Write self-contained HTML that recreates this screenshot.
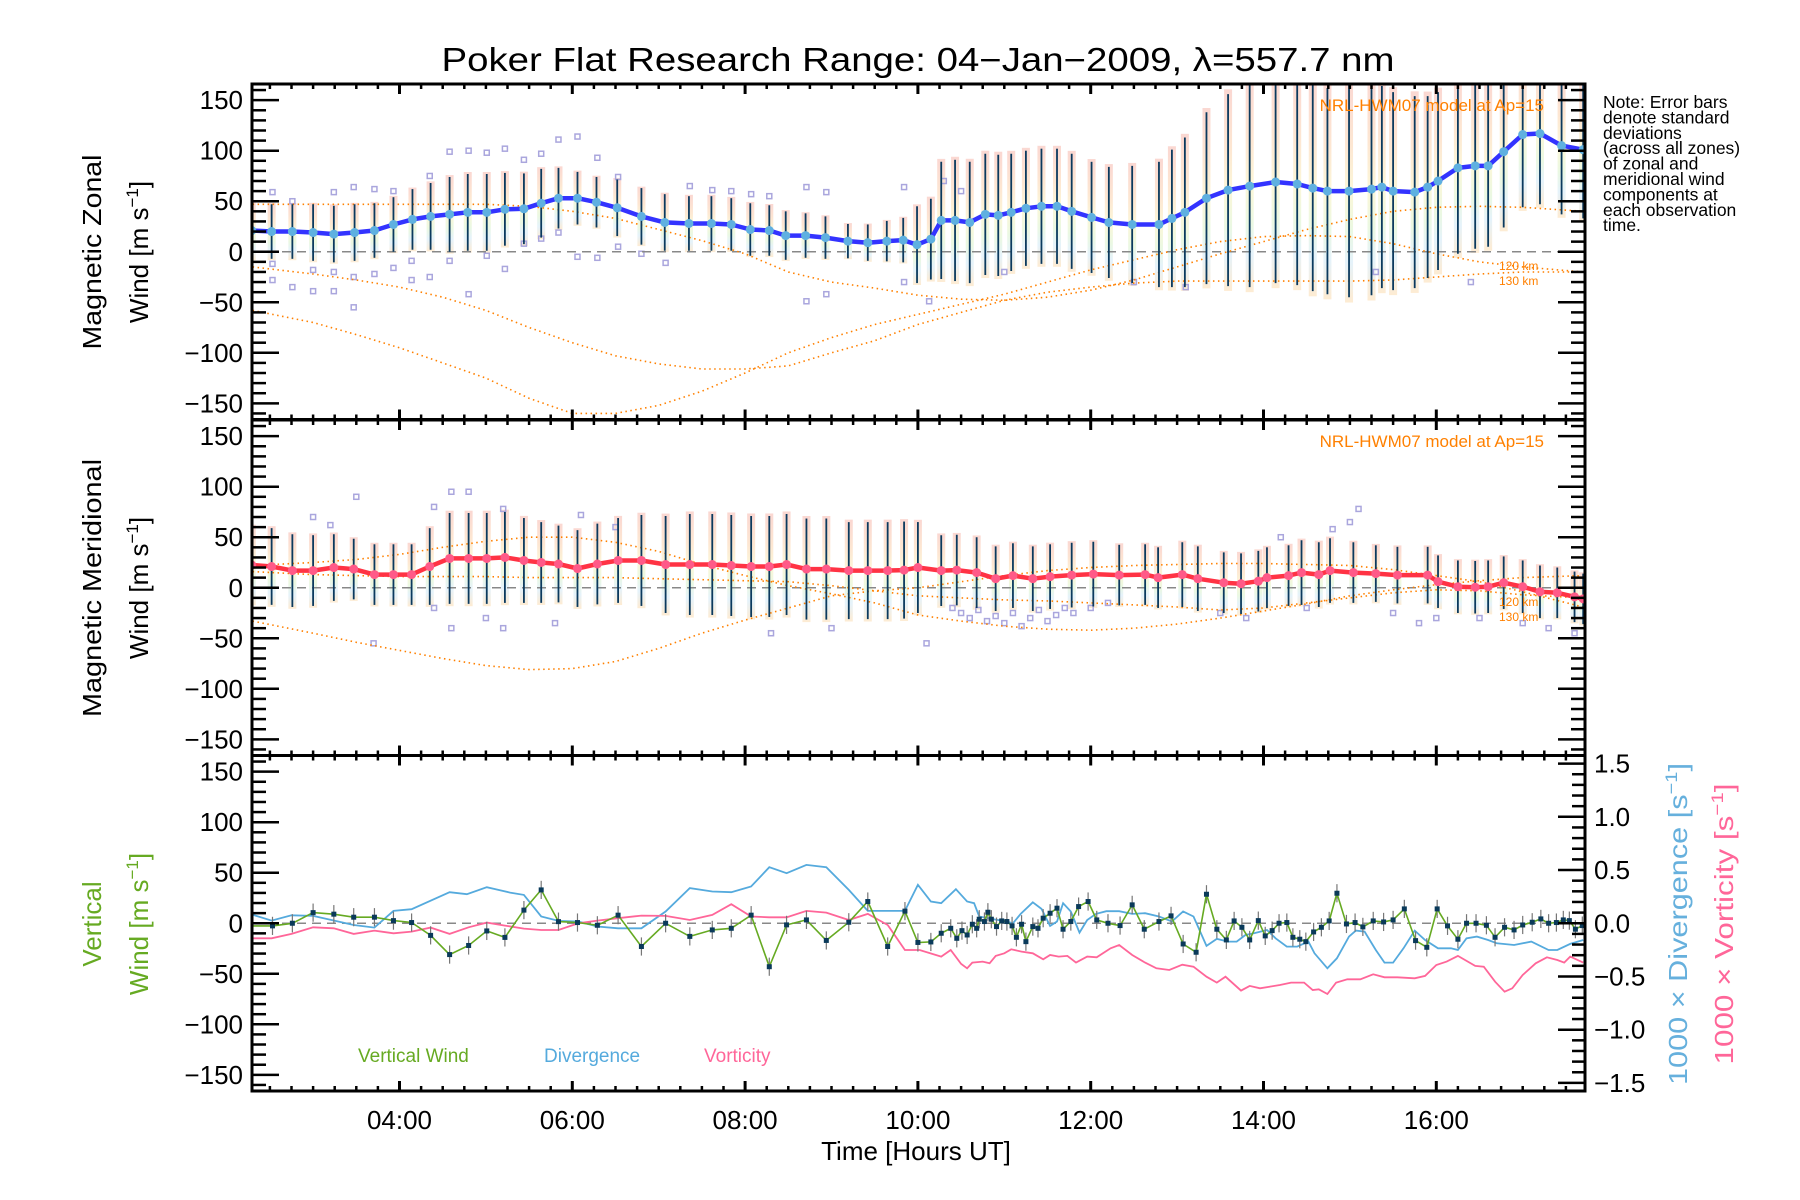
<!DOCTYPE html>
<html><head><meta charset="utf-8"><title>Poker Flat Research Range winds</title>
<style>
html,body{margin:0;padding:0;background:#fff;}
svg{display:block;font-family:"Liberation Sans",sans-serif;}
</style></head>
<body>
<svg id="chart" xmlns="http://www.w3.org/2000/svg" width="1800" height="1200" viewBox="0 0 1800 1200">
<rect x="0" y="0" width="1800" height="1200" fill="#fff"/>
<text x="918" y="71" text-anchor="middle" font-size="33" textLength="953" lengthAdjust="spacingAndGlyphs">Poker Flat Research Range: 04−Jan−2009, λ=557.7 nm</text>
<g id="panels"></g>
<g font-size="17.5">
<text x="1603" y="108">Note: Error bars</text>
<text x="1603" y="123.4">denote standard</text>
<text x="1603" y="138.8">deviations</text>
<text x="1603" y="154.2">(across all zones)</text>
<text x="1603" y="169.6">of zonal and</text>
<text x="1603" y="185">meridional wind</text>
<text x="1603" y="200.4">components at</text>
<text x="1603" y="215.8">each observation</text>
<text x="1603" y="231.2">time.</text>
</g>
<g font-size="26">
<text transform="translate(101,252) rotate(-90)" text-anchor="middle" textLength="195" lengthAdjust="spacingAndGlyphs">Magnetic Zonal</text>
<text transform="translate(148,252) rotate(-90)" text-anchor="middle">Wind [m s<tspan font-size="17" dy="-10">−1</tspan><tspan dy="10">]</tspan></text>
</g>
<g font-size="26">
<text transform="translate(101,588) rotate(-90)" text-anchor="middle" textLength="258" lengthAdjust="spacingAndGlyphs">Magnetic Meridional</text>
<text transform="translate(148,588) rotate(-90)" text-anchor="middle">Wind [m s<tspan font-size="17" dy="-10">−1</tspan><tspan dy="10">]</tspan></text>
</g>
<g font-size="26" fill="#66aa22">
<text transform="translate(101,924) rotate(-90)" text-anchor="middle">Vertical</text>
<text transform="translate(148,924) rotate(-90)" text-anchor="middle">Wind [m s<tspan font-size="17" dy="-10">−1</tspan><tspan dy="10">]</tspan></text>
</g>
<text transform="translate(1687,924) rotate(-90)" text-anchor="middle" font-size="26" fill="#66b0dd" textLength="322" lengthAdjust="spacingAndGlyphs">1000 × Divergence [s<tspan font-size="17" dy="-10">−1</tspan><tspan dy="10">]</tspan></text>
<text transform="translate(1733,924) rotate(-90)" text-anchor="middle" font-size="26" fill="#ff6699" textLength="281" lengthAdjust="spacingAndGlyphs">1000 × Vorticity [s<tspan font-size="17" dy="-10">−1</tspan><tspan dy="10">]</tspan></text>
<text x="916" y="1160" text-anchor="middle" font-size="26">Time [Hours UT]</text>
<g font-size="19">
<text x="358" y="1062" fill="#66aa22">Vertical Wind</text>
<text x="544" y="1062" fill="#55aadd">Divergence</text>
<text x="704" y="1062" fill="#ff6699">Vorticity</text>
</g>
</svg>
<script>
// ---- data ----
const zonalTimes=[2.29,2.52,2.76,3.00,3.24,3.48,3.71,3.93,4.15,4.36,4.58,4.79,5.01,5.22,5.44,5.64,5.84,6.06,6.28,6.52,6.80,7.07,7.35,7.61,7.84,8.06,8.28,8.47,8.70,8.93,9.19,9.42,9.64,9.83,9.99,10.15,10.27,10.43,10.60,10.78,10.93,11.08,11.25,11.43,11.61,11.78,12.01,12.21,12.48,12.79,12.94,13.09,13.34,13.59,13.84,14.14,14.39,14.57,14.74,14.99,15.25,15.37,15.50,15.75,15.90,16.02,16.25,16.45,16.60,16.78,17.00,17.20,17.45,17.70];
const zonalValues=[21,20,20,19,17.5,19,21,27,32,35,37,39,39,42,42.5,48,53,53,49,43.5,35,29,28,28,27,22,21,16,16,14,10.5,9,10.5,11.5,7,12.5,31,31,29,37,36,39,43,45,45,40,34,29,27,27,33,39,53,61,65,69,67,63,60,60,62,64,60,59,64,70,83,85,85,99,116,117,105,101];
const zonalSigma=[28,27,27,28,28,28,27,27,30,33,37,38,38,36,35,34,30,26,25,28,28,28,27,27,26,26,25,24,22,21,17,18,20,22,38,40,58,60,60,60,60,58,57,57,57,57,55,55,58,62,68,74,85,95,100,100,100,102,102,105,105,100,98,95,90,88,85,82,80,75,72,70,68,68];
const merTimes=[2.29,2.52,2.76,3.0,3.24,3.47,3.71,3.93,4.14,4.35,4.58,4.80,5.01,5.22,5.44,5.64,5.84,6.06,6.29,6.53,6.80,7.08,7.36,7.62,7.84,8.07,8.28,8.48,8.71,8.94,9.20,9.42,9.65,9.84,10.0,10.27,10.45,10.68,10.90,11.10,11.33,11.53,11.78,12.03,12.33,12.63,12.78,13.06,13.24,13.54,13.74,13.94,14.04,14.29,14.44,14.64,14.77,15.04,15.30,15.55,15.90,16.02,16.25,16.45,16.60,16.78,17.0,17.2,17.4,17.6,17.70];
const merValues=[22.5,21,17,17,20,18.5,13,13,13,21,29,29,29,30,27,25,23.5,19,23.5,27,27,23,23,23,22,21,21,23,18.5,18.5,17,17,17,17.5,20,17,17.5,15,9,12,9,11,12.5,13.5,12.5,13,10,13,9,5,4,6.5,10,12,15,13,17,15,14,12.5,12.5,6,1,0.5,1,5,1,-4,-5,-9,-11];
const merSigma=[38,38,36,35,33,30,30,30,30,38,45,45,45,45,42,40,38,38,40,42,45,48,50,50,50,50,50,50,50,50,48,48,48,48,45,35,35,35,32,32,32,32,32,32,30,30,30,32,32,30,30,30,30,30,32,32,32,30,28,28,28,26,26,26,26,26,26,26,25,25,25];
const zonalScatterT=[2.53,2.53,2.53,2.76,2.76,3.0,3.0,3.24,3.24,3.24,3.47,3.47,3.47,3.71,3.71,3.93,3.93,4.14,4.14,4.35,4.35,4.58,4.58,4.80,4.80,5.01,5.01,5.22,5.22,5.44,5.44,5.64,5.64,5.84,5.84,6.06,6.06,6.29,6.29,6.53,6.53,6.80,7.08,7.36,7.62,7.84,8.07,8.28,8.71,8.71,8.94,8.94,9.84,9.84,10.13,10.3,10.5,11.0,12.5,13.1,15.3,16.4];
const zonalScatterV=[59,-12,-28,50,-35,-18,-39,59,-20,-39,64,-25,-55,62,-22,60,-16,-9,-28,75,-25,99,-9,100,-42,98,-4,102,-17,91,8,97,13,111,19,114,-5,93,-6,74,5,-2,-11,65,61,60,57,55,64,-49,59,-42,64,-30,-49,70,60,-20,-30,-35,-20,-30];
const merScatterT=[10.4,10.5,10.6,10.7,10.8,10.9,11.0,11.1,11.2,11.3,11.4,11.5,11.6,11.7,11.8,12.0,12.2,13.5,13.8,14.5,15.5,15.8,16.0,16.5,17.0,17.3,17.6,15.0,14.8,15.1,14.2,3.0,3.2,4.6,4.8,5.2,6.1,6.5,3.5,4.4,5.0,5.2,4.6,3.7,4.4,5.8,8.3,9.0,10.1];
const merScatterV=[-20,-25,-30,-22,-33,-28,-35,-25,-38,-30,-22,-33,-27,-20,-25,-20,-15,-25,-30,-20,-25,-35,-30,-30,-35,-40,-45,65,58,78,50,70,62,95,95,78,72,60,90,80,-30,-40,-40,-55,-20,-35,-45,-40,-55];
const modelTimes1=[2.3,3,3.5,4,4.5,5,5.5,6,6.5,7,7.5,8,8.5,9,9.5,10,10.5,11,11.5,12,12.5,13,13.5,14,14.5,15,15.5,16,16.5,17,17.7];
const zonalModelA=[47,47,47,47,47,47,45,40,33,22,11,-2,-20,-30,-36,-43,-47,-48,-45,-38,-28,-15,-2,10,22,32,40,44,45,44,40];
const zonalModelB=[-15,-22,-28,-35,-45,-58,-75,-90,-103,-111,-116,-116,-113,-100,-88,-72,-60,-48,-40,-35,-31,-29,-29,-29,-29,-29,-28,-25,-22,-20,-20];
const zonalModelC=[-58,-70,-82,-95,-110,-125,-145,-160,-160,-152,-138,-120,-100,-85,-72,-62,-52,-42,-30,-18,-8,2,10,15,16,15,8,-2,-10,-15,-20];
const merModelA=[22,25,28,33,40,46,50,50,45,36,23,12,2,-6,-15,-27,-33,-38,-41,-42,-40,-36,-30,-23,-16,-8,-2,3,7,10,12];
const merModelB=[16,13,12,11,11,11,10,10,10,9,8,7,6,2,-3,-8,-10,-12,-13,-15,-17,-19,-22,-20,-15,-10,-5,-2,-3,-7,-10];
const merModelC=[-33,-45,-54,-62,-70,-77,-81,-80,-73,-60,-45,-32,-20,-8,-3,0,6,12,17,20,22,23,24,24,23,22,18,12,6,-4,-19];
const vertTimes=[2.27,2.53,2.76,3.0,3.24,3.47,3.71,3.93,4.14,4.36,4.58,4.80,5.01,5.22,5.44,5.64,5.84,6.06,6.29,6.53,6.80,7.08,7.36,7.62,7.84,8.07,8.28,8.48,8.71,8.94,9.20,9.42,9.65,9.85,10.0,10.15,10.27,10.38,10.45,10.51,10.57,10.63,10.68,10.71,10.77,10.81,10.85,10.91,10.97,11.03,11.09,11.14,11.20,11.25,11.33,11.39,11.45,11.53,11.61,11.68,11.77,11.86,11.97,12.07,12.20,12.34,12.48,12.62,12.79,12.93,13.07,13.22,13.34,13.46,13.57,13.66,13.75,13.84,13.94,14.02,14.10,14.18,14.27,14.34,14.42,14.49,14.58,14.67,14.76,14.85,14.96,15.06,15.15,15.27,15.39,15.50,15.63,15.76,15.89,16.01,16.13,16.25,16.35,16.46,16.58,16.68,16.79,16.90,17.00,17.11,17.21,17.30,17.39,17.47,17.54,17.61,17.69];
const vertValues=[-2.6,-2.6,0,10.5,9,6,6,2.6,0.7,-12,-31,-22,-7.6,-14,13,33,1.6,0.7,-2,8,-23,0,-13,-6.6,-5,8,-43,-1.6,3.3,-17,1,21.5,-23,12,-19,-18.5,-9.9,-5,-14.9,-7.3,-11.6,-1,-5,4,1.7,10.9,4,-3.3,2.3,1.7,-2.6,-13.9,-1,-18.2,-3.3,-5,5,9.9,14.9,-5.9,1.7,16.5,21.5,3.3,0,-2.3,18.2,-5.9,1.7,7.3,-20.5,-28.7,28.7,-5.9,-16.5,2.3,-4,-16.5,2.6,-12.5,-7.3,0,0.7,-13.9,-15.8,-18.2,-8.6,-4,2.3,29.7,-0.7,0.7,-3.6,2.3,1.3,3.3,14.2,-17.2,-23.8,14.2,-2.6,-15.8,0,0,-2,-13.9,-4,-6.6,-1.7,1,4.3,0,0.7,3.3,2.6,-5.9,-2.3];
const vertErr=9;
const divTimes=[2.27,2.52,2.75,3.0,3.47,3.71,3.93,4.14,4.58,4.78,5.01,5.28,5.44,5.64,5.84,6.07,6.29,6.53,6.80,7.08,7.36,7.62,7.84,8.07,8.28,8.48,8.71,8.94,9.20,9.42,9.65,9.85,10.0,10.15,10.27,10.44,10.57,10.65,10.71,10.85,11.03,11.10,11.19,11.33,11.43,11.53,11.61,11.68,11.77,11.87,11.96,12.06,12.18,12.33,12.48,12.63,12.79,12.94,13.07,13.19,13.34,13.46,13.59,13.69,13.79,13.89,14.04,14.14,14.27,14.39,14.52,14.59,14.74,14.85,14.99,15.07,15.17,15.30,15.40,15.50,15.62,15.75,15.87,16.02,16.17,16.25,16.35,16.47,16.60,16.70,16.90,17.10,17.30,17.40,17.55,17.70];
const divValues=[0.088,0.025,0.075,0.069,-0.016,-0.041,0.116,0.132,0.292,0.273,0.339,0.288,0.266,0.063,0.022,0.016,-0.031,-0.047,-0.047,0.11,0.33,0.298,0.292,0.345,0.527,0.47,0.548,0.527,0.313,0.116,0.116,0.116,0.361,0.204,0.188,0.32,0.204,0.188,0.063,0.041,0.016,0,0.088,0.197,0.135,-0.025,0.016,0.188,0.11,-0.088,0.031,0.088,0.113,0.113,0.088,0.094,0.063,0.016,0.11,0.063,-0.213,-0.147,-0.172,-0.172,-0.11,-0.094,-0.063,-0.141,-0.219,-0.219,-0.172,-0.282,-0.423,-0.329,-0.125,-0.069,-0.078,-0.251,-0.37,-0.37,-0.235,-0.069,-0.157,-0.235,-0.235,-0.251,-0.141,-0.125,-0.157,-0.188,-0.204,-0.172,-0.251,-0.251,-0.194,-0.157];
const vortTimes=[2.27,2.52,2.75,3.0,3.24,3.47,3.71,3.93,4.14,4.36,4.58,4.80,5.01,5.22,5.44,5.64,5.84,6.07,6.29,6.53,6.80,7.08,7.36,7.62,7.84,8.07,8.28,8.48,8.71,8.94,9.20,9.42,9.65,9.85,10.02,10.27,10.38,10.50,10.57,10.63,10.75,10.83,10.90,11.0,11.08,11.20,11.33,11.45,11.53,11.63,11.73,11.83,11.96,12.07,12.23,12.33,12.48,12.63,12.76,12.91,13.06,13.19,13.34,13.46,13.56,13.74,13.84,13.96,14.07,14.19,14.32,14.47,14.57,14.64,14.74,14.84,14.97,15.12,15.27,15.40,15.55,15.75,15.87,16.0,16.12,16.25,16.45,16.55,16.68,16.79,16.88,17.0,17.15,17.28,17.40,17.48,17.55,17.70];
const vortValues=[-0.141,-0.141,-0.1,-0.038,-0.047,-0.1,-0.069,-0.094,-0.078,-0.041,-0.1,-0.038,0.006,-0.022,-0.05,-0.063,-0.063,0,0.025,0.047,0.072,0.069,0.031,0.078,0.179,0.063,0.056,0.056,0.116,0.1,0.031,0.088,-0.016,-0.251,-0.251,-0.313,-0.251,-0.382,-0.423,-0.37,-0.36,-0.376,-0.307,-0.282,-0.245,-0.266,-0.282,-0.339,-0.298,-0.313,-0.307,-0.37,-0.313,-0.32,-0.235,-0.204,-0.298,-0.37,-0.423,-0.439,-0.389,-0.408,-0.502,-0.558,-0.502,-0.633,-0.589,-0.611,-0.596,-0.58,-0.558,-0.558,-0.627,-0.621,-0.665,-0.558,-0.527,-0.527,-0.48,-0.508,-0.508,-0.517,-0.495,-0.392,-0.36,-0.307,-0.401,-0.408,-0.549,-0.643,-0.611,-0.486,-0.376,-0.32,-0.345,-0.37,-0.313,-0.37];
const xTickHours=[4,6,8,10,12,14,16];
const xTickLabels=["04:00","06:00","08:00","10:00","12:00","14:00","16:00"];
const yTickValues=[150,100,50,0,-50,-100,-150];
const rTickValues=[1.5,1.0,0.5,0.0,-0.5,-1.0,-1.5];

const NS="http://www.w3.org/2000/svg";
const L=252,R=1585,PH=335.5;
const TOPS=[84,420,755.5];
const X=h=>399.5+(h-4)*86.4;
const Y=(v,p)=>TOPS[p]+(166-v)*PH/332;
const YR=d=>TOPS[2]+(1.576-d)*PH/3.152;
const root=document.getElementById('panels');
function mk(tag,attrs,parent){const e=document.createElementNS(NS,tag);for(const k in attrs)e.setAttribute(k,attrs[k]);(parent||root).appendChild(e);return e;}
function pathFrom(ts,vs,fy){let d='';const n=Math.min(ts.length,vs.length);for(let i=0;i<n;i++){d+=(i?'L':'M')+X(ts[i]).toFixed(1)+','+fy(vs[i]).toFixed(1);}return d;}

const defs=mk('defs',{});
const grad=mk('linearGradient',{id:'pastel',x1:'0',y1:'0',x2:'0',y2:'1'},defs);
[['0','#f6b0a4'],['0.3','#fbcfa6'],['0.5','#f8eeb0'],['0.68','#d6f1c6'],['0.82','#cbe6f6'],['1','#fcd8a6']].forEach(s=>mk('stop',{offset:s[0],'stop-color':s[1]},grad));
for(let p=0;p<3;p++){const cp=mk('clipPath',{id:'clip'+p},defs);mk('rect',{x:L,y:TOPS[p],width:R-L,height:PH},cp);}

function windPanel(p,times,vals,sig,sT,sV,mA,mB,mC,lineCol,dotCol,name){
  const g=mk('g',{'clip-path':'url(#clip'+p+')'});
  
  
  const n=Math.min(times.length,vals.length,sig.length);
  for(let i=0;i<n;i++){
    const prev=i>0?times[i-1]:times[i]-0.3,next=i<n-1?times[i+1]:times[i]+0.3;
    const w=Math.max(4,Math.min(8,(next-prev)/2*86.4*0.7));
    const r=mk('rect',{x:X(times[i])-w/2,y:Y(vals[i]+sig[i]*1.05,p),width:w,height:Y(vals[i]-sig[i]*1.05,p)-Y(vals[i]+sig[i]*1.05,p),fill:'url(#pastel)',opacity:0.5},g);
    
    
  }
  for(let i=0;i<Math.min(sT.length,sV.length);i++){
    const s=mk('rect',{x:X(sT[i])-2.5,y:Y(sV[i],p)-2.5,width:5,height:5,fill:'none',stroke:'#aaa6dd','stroke-width':1.5},g);
    
    
  }
  mk('line',{x1:L,x2:R,y1:Y(0,p),y2:Y(0,p),stroke:'#888','stroke-width':1.5,'stroke-dasharray':'9,6'},g);
  [mA,mB,mC].forEach((m,k)=>{
    const c=mk('path',{d:pathFrom(modelTimes1,m,v=>Y(v,p)),fill:'none',stroke:'#ff8000','stroke-width':1.6,'stroke-dasharray':'1.5,3.5'},g);
    
    
  });
  for(let i=0;i<n;i++){
    const e=mk('line',{x1:X(times[i]),x2:X(times[i]),y1:Y(vals[i]+sig[i],p),y2:Y(vals[i]-sig[i],p),stroke:'#0b3a5e','stroke-width':1.8},g);
    
    
  }
  const ln=mk('path',{d:pathFrom(times,vals,v=>Y(v,p)),fill:'none',stroke:lineCol,'stroke-width':4.5,'stroke-linejoin':'round'},g);
  
  
  for(let i=0;i<n;i++){
    const d=mk('circle',{cx:X(times[i]),cy:Y(vals[i],p),r:4.5,fill:dotCol},g);
    
    
  }
  const lbl=mk('text',{x:1544,y:TOPS[p]+27,'text-anchor':'end','font-size':17,fill:'#ff8000'});
  lbl.textContent='NRL-HWM07 model at Ap=15';
  
  
  const k1=mk('text',{x:1499,y:Y(-20,p)-2,'font-size':12,fill:'#ff8000'});k1.textContent='120 km';
  
  
  const k2=mk('text',{x:1499,y:Y(-20,p)+13,'font-size':12,fill:'#ff8000'});k2.textContent='130 km';
  
  
}
windPanel(0,zonalTimes,zonalValues,zonalSigma,zonalScatterT,zonalScatterV,zonalModelA,zonalModelB,zonalModelC,'#3333ff','#5fb0e0','zonal');
windPanel(1,merTimes,merValues,merSigma,merScatterT,merScatterV,merModelA,merModelB,merModelC,'#ff3344','#ff5a88','meridional');

(function(){
  const p=2;
  const g=mk('g',{'clip-path':'url(#clip2)'});
  
  
  mk('line',{x1:L,x2:R,y1:Y(0,p),y2:Y(0,p),stroke:'#888','stroke-width':1.5,'stroke-dasharray':'9,6'},g);
  const dv=mk('path',{d:pathFrom(divTimes,divValues,YR),fill:'none',stroke:'#55aadd','stroke-width':1.8},g);
  
  
  const vt=mk('path',{d:pathFrom(vortTimes,vortValues,YR),fill:'none',stroke:'#ff6699','stroke-width':1.8},g);
  
  
  const n=Math.min(vertTimes.length,vertValues.length);
  for(let i=0;i<n;i++){
    const e=mk('line',{x1:X(vertTimes[i]),x2:X(vertTimes[i]),y1:Y(vertValues[i]+vertErr,p),y2:Y(vertValues[i]-vertErr,p),stroke:'#777','stroke-width':1.2},g);
    
    
  }
  const vw=mk('path',{d:pathFrom(vertTimes,vertValues,v=>Y(v,p)),fill:'none',stroke:'#66aa22','stroke-width':1.6},g);
  
  
  for(let i=0;i<n;i++){
    const m=mk('rect',{x:X(vertTimes[i])-2.5,y:Y(vertValues[i],p)-2.5,width:5,height:5,fill:'#0a3a5a'},g);
    
    
  }
})();

const ax=mk('g',{stroke:'#000'});


for(let p=0;p<3;p++){
  const t=TOPS[p],b=TOPS[p]+PH;
  const fr=mk('rect',{x:L,y:t,width:R-L,height:PH,fill:'none','stroke-width':3},ax);
  
  
  for(let q=2;q<=17.75;q+=0.25){
    const x=X(q);if(x<L+2||x>R-2)continue;
    const maj=Math.abs(q/2-Math.round(q/2))<1e-6;const len=maj?10:5;
    mk('line',{x1:x,x2:x,y1:b,y2:b-len,'stroke-width':maj?3:2.5},ax);
    mk('line',{x1:x,x2:x,y1:t,y2:t+len,'stroke-width':maj?3:2.5},ax);
  }
  for(let v=-160;v<=160;v+=10){
    const y=Y(v,p);const maj=v%50===0;const len=maj?27:14;
    mk('line',{x1:L,x2:L+len,y1:y,y2:y,'stroke-width':2.5},ax);
    if(p<2)mk('line',{x1:R,x2:R-len,y1:y,y2:y,'stroke-width':2.5},ax);
  }
  yTickValues.forEach(v=>{
    const tx=mk('text',{x:243,y:Y(v,p)+9,'text-anchor':'end','font-size':26,stroke:'none',fill:'#000'});
    tx.textContent=(v<0?'−':'')+Math.abs(v);
    
    
  });
}
for(let d=-15;d<=15;d++){
  const y=YR(d/10);const maj=d%5===0;const len=maj?27:13;
  mk('line',{x1:R,x2:R-len,y1:y,y2:y,'stroke-width':2.5},ax);
}
rTickValues.forEach(d=>{
  const tx=mk('text',{x:1594,y:YR(d)+9,'font-size':26,stroke:'none',fill:'#000'});
  tx.textContent=(d<0?'−':'')+Math.abs(d).toFixed(1);
  
  
});
xTickHours.forEach((h,i)=>{
  const tx=mk('text',{x:X(h),y:1129,'text-anchor':'middle','font-size':26});
  tx.textContent=xTickLabels[i];
  
  
});
</script>
</body></html>
